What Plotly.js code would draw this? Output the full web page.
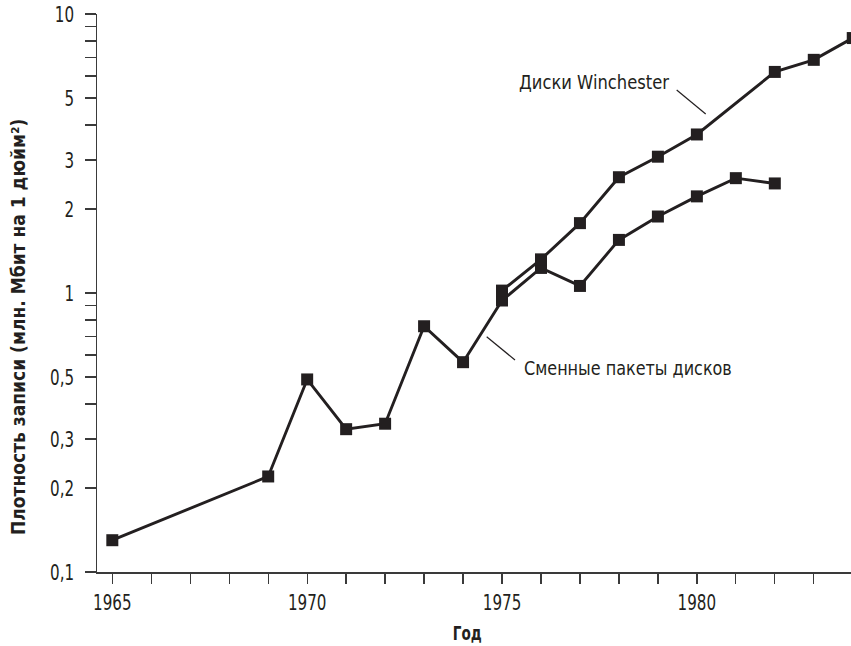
<!DOCTYPE html>
<html>
<head>
<meta charset="utf-8">
<script src="https://cdn.plot.ly/plotly-3.0.1.min.js"></script>
<style>
  html, body { margin: 0; padding: 0; background: #ffffff; }
  #chart { width: 851px; height: 646px; }
</style>
</head>
<body>
<div id="chart"></div>
<script>
// Areal density of disk storage, million bits per square inch
const removableYears = [1965, 1969, 1970, 1971, 1972, 1973, 1974, 1975, 1976, 1977, 1978, 1979, 1980, 1981, 1982];
const removableDensity = [0.13, 0.22, 0.49, 0.325, 0.34, 0.76, 0.565, 0.94, 1.23, 1.06, 1.55, 1.88, 2.22, 2.58, 2.47];

const winchesterYears = [1975, 1976, 1977, 1978, 1979, 1980, 1982, 1983, 1984];
const winchesterDensity = [1.02, 1.32, 1.78, 2.6, 3.08, 3.7, 6.2, 6.85, 8.2];

// Axis ticks: every year / every 1-2-...-9 step, labels only on some
const yearTicks = [1965, 1966, 1967, 1968, 1969, 1970, 1971, 1972, 1973, 1974, 1975, 1976, 1977, 1978, 1979, 1980, 1981, 1982, 1983, 1984];
const yearLabels = ['1965', '', '', '', '', '1970', '', '', '', '', '1975', '', '', '', '', '1980', '', '', '', ''];
const densityTicks = [0.1, 0.2, 0.3, 0.4, 0.5, 0.6, 0.7, 0.8, 0.9, 1, 2, 3, 4, 5, 6, 7, 8, 9, 10];
const densityLabels = ['0,1', '0,2', '0,3', '', '0,5', '', '', '', '', '1', '2', '3', '', '5', '', '', '', '', '10'];

const seriesLabels = ['Сменные пакеты дисков', 'Диски Winchester'];
const xTitle = 'Год';
const yTitle = 'Плотность записи (млн. Мбит на 1 дюйм²)';

const ink = '#231f20';
const axisInk = '#3a3a3a';
const narrow = '"DejaVu Sans Condensed", "DejaVu Sans", sans-serif';

const lineStyle = { color: ink, width: 2.9 };
const markerStyle = { symbol: 'square', size: 12, color: ink, line: { width: 0 } };

const traces = [
  {
    x: removableYears, y: removableDensity, name: seriesLabels[0],
    type: 'scatter', mode: 'lines+markers',
    line: lineStyle, marker: markerStyle
  },
  {
    x: winchesterYears, y: winchesterDensity, name: seriesLabels[1],
    type: 'scatter', mode: 'lines+markers',
    line: lineStyle, marker: markerStyle
  }
];

const layout = {
  width: 851,
  height: 646,
  margin: { l: 97, r: 0, t: 14, b: 74 },
  paper_bgcolor: '#ffffff',
  plot_bgcolor: '#ffffff',
  showlegend: false,
  font: { family: narrow, color: ink, size: 20 },
  xaxis: {
    range: [1964.607, 1983.955],
    tickmode: 'array',
    tickvals: yearTicks,
    ticktext: yearLabels,
    ticks: 'outside',
    ticklen: 10,
    tickwidth: 1.3,
    tickcolor: axisInk,
    showline: true,
    linecolor: axisInk,
    linewidth: 1.5,
    showgrid: false,
    zeroline: false,
    tickfont: { family: narrow, size: 22, color: ink }
  },
  yaxis: {
    type: 'log',
    range: [-1, 1],
    tickmode: 'array',
    tickvals: densityTicks,
    ticktext: densityLabels,
    ticks: 'outside',
    ticklen: 11,
    tickwidth: 1.3,
    tickcolor: axisInk,
    ticklabelstandoff: 6,
    showline: true,
    linecolor: axisInk,
    linewidth: 1.5,
    showgrid: false,
    zeroline: false,
    tickfont: { family: narrow, size: 22, color: ink }
  },
  annotations: [
    {
      text: seriesLabels[1], xref: 'paper', yref: 'paper',
      x: 0.557, y: 0.878, xanchor: 'left', yanchor: 'middle', align: 'left',
      showarrow: false, font: { family: narrow, size: 19, color: ink }
    },
    {
      text: seriesLabels[0], xref: 'paper', yref: 'paper',
      x: 0.5637, y: 0.3656, xanchor: 'left', yanchor: 'middle', align: 'left',
      showarrow: false, font: { family: narrow, size: 19, color: ink }
    },
    {
      text: '<b>' + xTitle + '</b>', xref: 'paper', yref: 'paper',
      x: 0.4907, y: -0.11, xanchor: 'center', yanchor: 'middle',
      showarrow: false, font: { family: narrow, size: 19, color: ink }
    },
    {
      text: '<b>' + yTitle + '</b>', xref: 'paper', yref: 'paper',
      x: -0.1048, y: 0.439, xanchor: 'center', yanchor: 'middle', textangle: -90,
      showarrow: false, font: { family: narrow, size: 19, color: ink }
    }
  ],
  shapes: [
    // leader from the Winchester label to its line
    { type: 'line', xref: 'paper', yref: 'paper', x0: 0.7688, y0: 0.8638, x1: 0.8073, y1: 0.8208,
      line: { color: ink, width: 1.2 } },
    // leader from the removable-pack label to its line
    { type: 'line', xref: 'paper', yref: 'paper', x0: 0.5168, y0: 0.4217, x1: 0.5544, y1: 0.3799,
      line: { color: ink, width: 1.2 } }
  ]
};

// Squeeze lettering horizontally by factor s (condensed typeface look),
// keeping each label pinned at its text anchor.
function condense(nodes, s) {
  nodes.forEach(function (t) {
    const bb = t.getBBox();
    if (!bb.width) return;
    const anchor = t.getAttribute('text-anchor') || 'start';
    const ax = anchor === 'middle' ? bb.x + bb.width / 2
             : anchor === 'end' ? bb.x + bb.width : bb.x;
    const prev = t.getAttribute('transform') || '';
    t.setAttribute('transform',
      prev + ' translate(' + ax + ',0) scale(' + s + ',1) translate(' + (-ax) + ',0)');
  });
}

// Set widths (px) of the condensed lettering
const yearLabelWidth = 38.5;                  // width of a four-digit year label
const annotationWidths = [151, 208, 29, 417]; // per annotation, in layout order

const gd = document.getElementById('chart');
Plotly.newPlot(gd, traces, layout, { displayModeBar: false, staticPlot: true }).then(function () {
  const tickTexts = gd.querySelectorAll('.xtick text, .ytick text');
  const firstYear = gd.querySelector('.xtick text');
  const tickScale = Math.min(1, yearLabelWidth / firstYear.getBBox().width);
  condense(tickTexts, tickScale);

  gd.querySelectorAll('g.annotation').forEach(function (g) {
    const i = +g.getAttribute('data-index');
    const t = g.querySelector('text');
    const w = t.getBBox().width;
    condense([t], Math.min(1, annotationWidths[i] / w));
  });
});
</script>
</body>
</html>
